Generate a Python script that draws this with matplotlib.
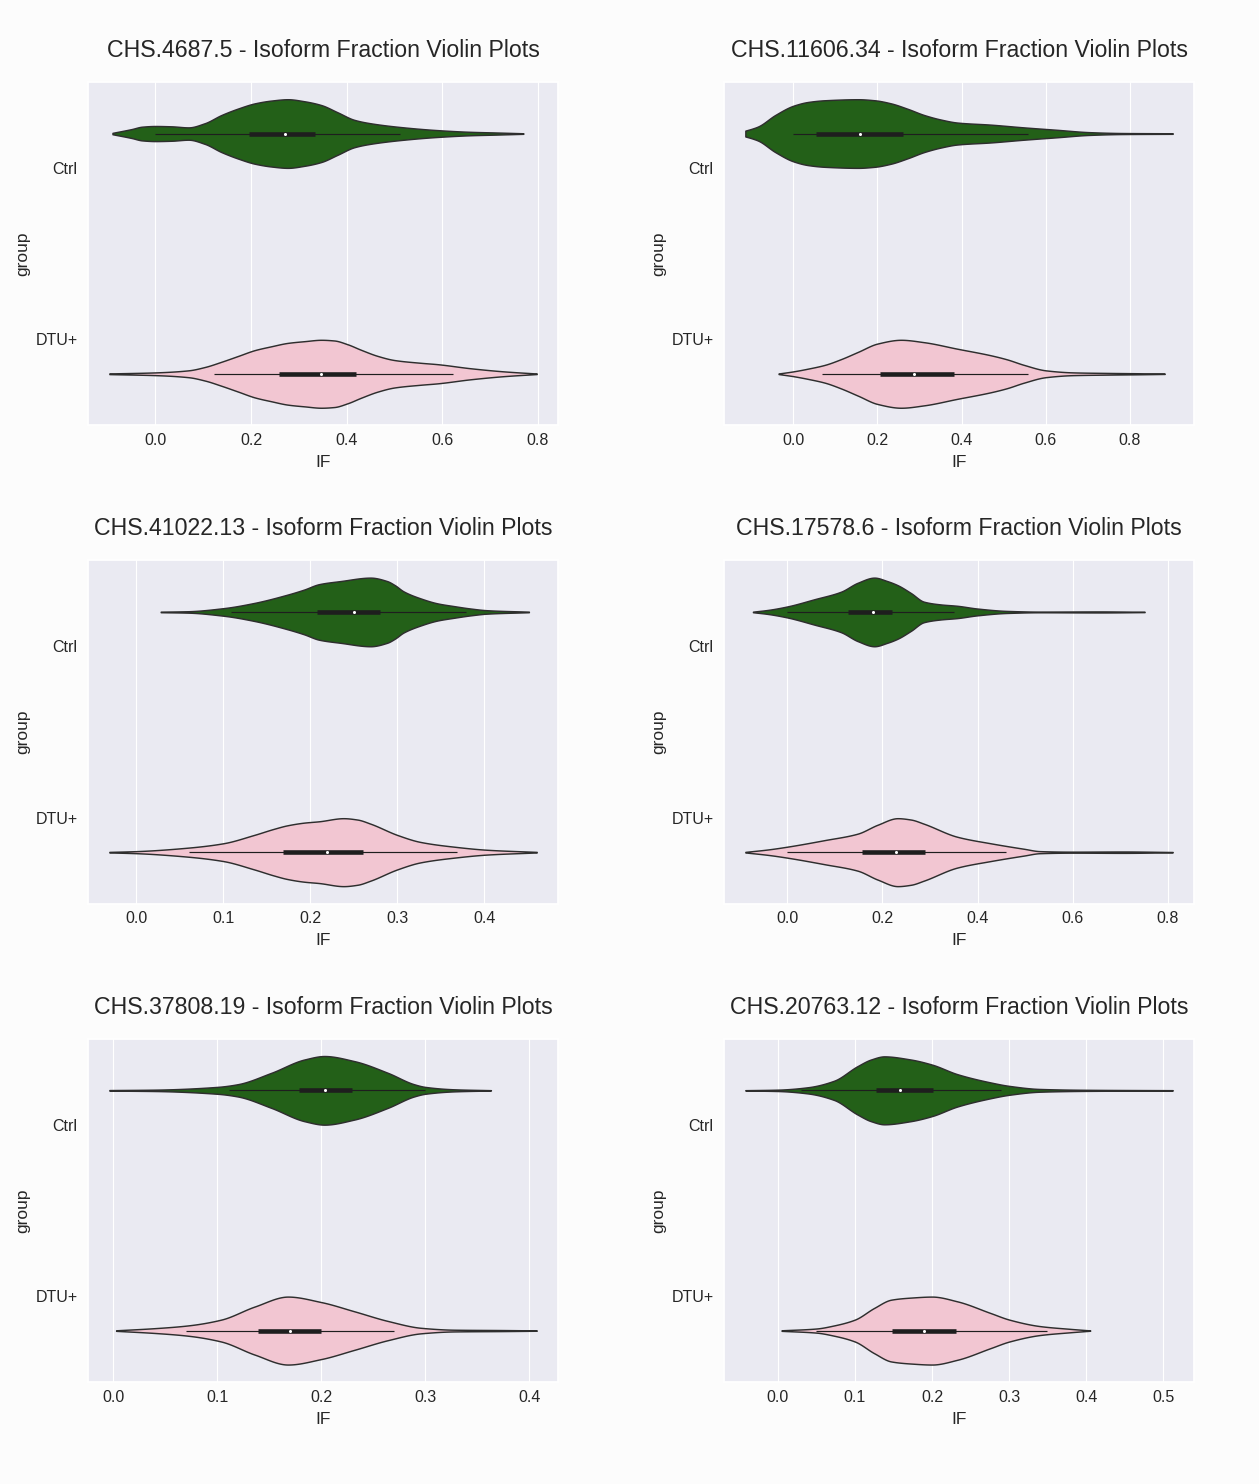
import numpy as np
import matplotlib
matplotlib.use("Agg")
import matplotlib.pyplot as plt
from matplotlib.ticker import MultipleLocator
import seaborn as sns

genes = ["CHS.4687.5", "CHS.11606.34", "CHS.41022.13",
         "CHS.17578.6", "CHS.37808.19", "CHS.20763.12"]
groups = ["Ctrl", "DTU+"]
tick_step = [0.2, 0.2, 0.1, 0.2, 0.1, 0.1]

# violin outlines: IF values and relative half-width (1 = widest)
ctrl_if = [
    [-0.090, -0.05, -0.028, 0.0, 0.034, 0.069, 0.103, 0.138, 0.173, 0.208, 0.242, 0.277,
     0.312, 0.347, 0.381, 0.416, 0.45, 0.52, 0.59, 0.66, 0.715, 0.77],
    [-0.114, -0.0985, -0.083, -0.043, 0.0, 0.035, 0.075, 0.154, 0.193, 0.232, 0.272, 0.311,
     0.35, 0.39, 0.469, 0.548, 0.626, 0.705, 0.784, 0.902],
    [0.028, 0.0586, 0.1, 0.135, 0.173, 0.1925, 0.21, 0.2346, 0.269, 0.288, 0.297, 0.307,
     0.326, 0.346, 0.365, 0.384, 0.403, 0.451],
    [-0.072, -0.04, 0.0, 0.057, 0.113, 0.148, 0.183, 0.21, 0.232, 0.26, 0.287, 0.322,
     0.357, 0.399, 0.462, 0.531, 0.657, 0.751],
    [-0.0035, 0.04, 0.1, 0.12, 0.152, 0.184, 0.203, 0.232, 0.264, 0.289, 0.3, 0.328, 0.363],
    [-0.042, 0.0, 0.039, 0.073, 0.103, 0.121, 0.138, 0.172, 0.2, 0.233, 0.276, 0.3,
     0.34, 0.405, 0.512],
]
ctrl_width = [
    [0.02, 0.13, 0.2, 0.22, 0.21, 0.18, 0.3, 0.54, 0.73, 0.88, 0.96, 1.0,
     0.94, 0.83, 0.62, 0.4, 0.3, 0.18, 0.1, 0.05, 0.03, 0.008],
    [0.085, 0.14, 0.21, 0.54, 0.81, 0.92, 0.97, 1.0, 0.97, 0.88, 0.72, 0.54,
     0.41, 0.32, 0.26, 0.18, 0.11, 0.04, 0.015, 0.008],
    [0.008, 0.02, 0.11, 0.26, 0.5, 0.65, 0.81, 0.9, 1.0, 0.9, 0.78, 0.6,
     0.4, 0.25, 0.17, 0.1, 0.05, 0.008],
    [0.008, 0.06, 0.16, 0.37, 0.59, 0.85, 1.0, 0.9, 0.78, 0.55, 0.3, 0.22,
     0.18, 0.1, 0.03, 0.01, 0.015, 0.005],
    [0.008, 0.02, 0.1, 0.18, 0.51, 0.9, 1.0, 0.85, 0.51, 0.18, 0.1, 0.03, 0.005],
    [0.005, 0.02, 0.09, 0.28, 0.7, 0.9, 0.99, 0.9, 0.75, 0.47, 0.23, 0.13,
     0.04, 0.015, 0.005],
]
dtu_if = [
    [-0.0965, 0.0, 0.069, 0.104, 0.138, 0.173, 0.208, 0.242, 0.277, 0.312, 0.347, 0.374,
     0.402, 0.43, 0.465, 0.5, 0.555, 0.59, 0.66, 0.729, 0.798],
    [-0.035, 0.0, 0.035, 0.075, 0.114, 0.154, 0.2, 0.256, 0.311, 0.39, 0.469, 0.508,
     0.548, 0.6, 0.666, 0.745, 0.823, 0.883],
    [-0.031, 0.0, 0.0586, 0.1, 0.135, 0.158, 0.173, 0.1925, 0.21, 0.238, 0.254, 0.269,
     0.3, 0.326, 0.365, 0.403, 0.46],
    [-0.088, -0.04, 0.0, 0.078, 0.148, 0.19, 0.232, 0.26, 0.287, 0.357, 0.427, 0.497,
     0.531, 0.6, 0.706, 0.81],
    [0.003, 0.04, 0.072, 0.104, 0.136, 0.168, 0.2, 0.232, 0.264, 0.296, 0.328, 0.375, 0.407],
    [0.005, 0.05, 0.073, 0.1, 0.125, 0.147, 0.172, 0.2, 0.233, 0.276, 0.3, 0.34, 0.379, 0.405],
]
dtu_width = [
    [0.01, 0.04, 0.1, 0.2, 0.35, 0.52, 0.69, 0.8, 0.9, 0.95, 0.99, 0.97,
     0.86, 0.7, 0.52, 0.4, 0.32, 0.28, 0.16, 0.07, 0.008],
    [0.008, 0.07, 0.15, 0.26, 0.43, 0.64, 0.88, 0.99, 0.92, 0.73, 0.54, 0.42,
     0.26, 0.1, 0.04, 0.025, 0.015, 0.005],
    [0.008, 0.03, 0.13, 0.26, 0.5, 0.68, 0.78, 0.86, 0.9, 0.99, 0.95, 0.83,
     0.5, 0.3, 0.16, 0.07, 0.008],
    [0.008, 0.08, 0.16, 0.35, 0.54, 0.8, 0.99, 0.95, 0.83, 0.45, 0.26, 0.1,
     0.03, 0.015, 0.02, 0.005],
    [0.008, 0.07, 0.15, 0.32, 0.7, 0.99, 0.83, 0.56, 0.28, 0.08, 0.025, 0.015, 0.005],
    [0.008, 0.06, 0.15, 0.32, 0.66, 0.9, 0.96, 0.99, 0.85, 0.51, 0.32, 0.13, 0.05, 0.005],
]

# inner box: lower whisker, q1, median, q3, upper whisker
ctrl_box = [
    [0.0, 0.196, 0.272, 0.333, 0.511],
    [0.0, 0.055, 0.159, 0.26, 0.558],
    [0.109, 0.208, 0.25, 0.2805, 0.379],
    [0.0, 0.128, 0.181, 0.221, 0.35],
    [0.111, 0.179, 0.204, 0.23, 0.3],
    [0.03, 0.128, 0.159, 0.201, 0.29],
]
dtu_box = [
    [0.122, 0.258, 0.347, 0.419, 0.622],
    [0.068, 0.205, 0.288, 0.381, 0.558],
    [0.0605, 0.168, 0.219, 0.26, 0.369],
    [0.0, 0.158, 0.229, 0.289, 0.46],
    [0.07, 0.139, 0.17, 0.2, 0.27],
    [0.05, 0.148, 0.19, 0.231, 0.349],
]

GREEN = "#236018"
PINK = "#F2C6D2"
EDGE = "#2e2e2e"
BOXC = "#1e1e1e"


def pchip(x, y, xs):
    # monotone cubic through the outline points
    x = np.asarray(x, float)
    y = np.asarray(y, float)
    h = np.diff(x)
    d = np.diff(y) / h
    m = np.zeros_like(y)
    for k in range(1, len(x) - 1):
        if d[k - 1] * d[k] > 0:
            w1 = 2 * h[k] + h[k - 1]
            w2 = h[k] + 2 * h[k - 1]
            m[k] = (w1 + w2) / (w1 / d[k - 1] + w2 / d[k])
    m[0] = d[0]
    m[-1] = d[-1]
    i = np.clip(np.searchsorted(x, xs) - 1, 0, len(h) - 1)
    t = (xs - x[i]) / h[i]
    h00 = 2 * t**3 - 3 * t**2 + 1
    h10 = t**3 - 2 * t**2 + t
    h01 = -2 * t**3 + 3 * t**2
    h11 = t**3 - t**2
    return h00 * y[i] + h10 * h[i] * m[i] + h01 * y[i + 1] + h11 * h[i] * m[i + 1]


def draw_violin(ax, xs, ws, box, pos, color):
    grid = np.linspace(xs[0], xs[-1], 800)
    half = np.clip(pchip(xs, ws, grid), 0, None) * 0.2
    ax.fill_between(grid, pos - half, pos + half, facecolor=color,
                    edgecolor=EDGE, linewidth=1.05, zorder=2)
    ax.plot([box[0], box[4]], [pos, pos], color=BOXC, lw=0.85,
            solid_capstyle="butt", zorder=3)
    ax.plot([box[1], box[3]], [pos, pos], color=BOXC, lw=3.3,
            solid_capstyle="butt", zorder=3)
    ax.plot([box[2]], [pos], marker="o", color="white", ms=2.2,
            mew=0, zorder=4)


sns.set_theme(style="darkgrid", rc={"grid.linewidth": 0.8})
plt.rcParams['font.family'] = ['Liberation Sans', 'DejaVu Sans']

fig, axes = plt.subplots(3, 2, figsize=(12.59, 14.84), dpi=100)
fig.patch.set_facecolor("#fcfcfc")
fig.subplots_adjust(left=0.0699, right=0.9484, top=0.9447, bottom=0.0687,
                    wspace=0.353, hspace=0.394)

for n, ax in enumerate(axes.flat):
    draw_violin(ax, ctrl_if[n], ctrl_width[n], ctrl_box[n], -0.2, GREEN)
    draw_violin(ax, dtu_if[n], dtu_width[n], dtu_box[n], 1.2, PINK)
    ax.set_ylim(1.5, -0.5)
    ax.set_yticks([0, 1])
    ax.set_yticklabels(groups)
    ax.xaxis.set_major_locator(MultipleLocator(tick_step[n]))
    ax.xaxis.set_major_formatter(plt.FormatStrFormatter("%.1f"))
    ax.yaxis.grid(False)
    ax.set_axisbelow(True)
    ax.tick_params(axis="x", labelsize=11.5, pad=-0.5)
    ax.tick_params(axis="y", labelsize=11.5, pad=1.5)
    ax.set_xlabel("IF", fontsize=12.5, labelpad=5)
    ax.set_ylabel("group", fontsize=12.5)
    ax.set_title(genes[n] + " - Isoform Fraction Violin Plots", fontsize=16.7, pad=18)

fig.savefig("out.png", dpi=100, facecolor=fig.get_facecolor())
